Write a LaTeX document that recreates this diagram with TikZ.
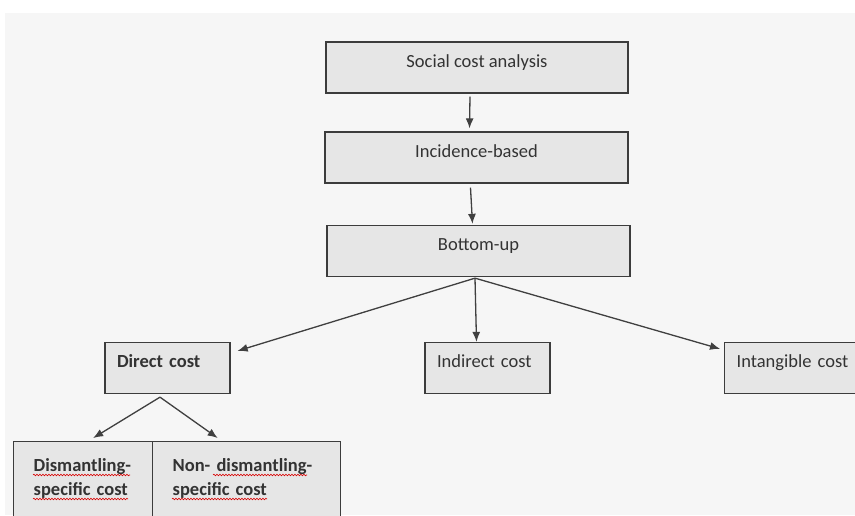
\documentclass[tikz,border=0pt]{standalone}
\usepackage{fontspec}
\setmainfont{Carlito}
\usetikzlibrary{arrows.meta,decorations.pathmorphing}
\definecolor{bggray}{HTML}{F6F6F6}
\definecolor{boxfill}{HTML}{E6E6E6}
\definecolor{boxline}{HTML}{3C3C3C}
\definecolor{txtgray}{HTML}{333333}
\definecolor{linegray}{HTML}{404040}

\begin{document}
\begin{tikzpicture}[x=1pt,y=-1pt]
\tikzstyle{every node}=[font=\fontsize{18.5}{24}\selectfont, text=txtgray]
\tikzstyle{box}=[draw=boxline, line width=1.3pt, fill=boxfill, rectangle, minimum height=51pt, text height=12pt, text depth=13pt, inner sep=0pt]
\tikzstyle{leaf}=[box, text width=101pt, align=left, inner xsep=12pt]
\tikzstyle{split}=[draw=boxline, line width=1.3pt, fill=boxfill, rectangle, anchor=north west, align=left, inner xsep=20pt, inner ysep=5pt, text height=25pt, text depth=60pt, font=\fontsize{18.5}{24}\selectfont\bfseries]
\tikzstyle{conn}=[-{Latex[length=10pt,width=8pt]}, draw=linegray, fill=linegray, line width=1.3pt]
\tikzstyle{squiggle}=[red!85!black, line width=0.6pt, decorate, decoration={snake, amplitude=0.8pt, segment length=3pt}]
\useasboundingbox (0,0) rectangle (855,515);
\clip (0,0) rectangle (855,515);
\fill[white] (0,0) rectangle (855,515);
\fill[bggray] (5,13) rectangle (855,515);
% chain
\node[box, minimum width=302pt] (social) at (477,67.5) {Social cost analysis};
\node[box, minimum width=303pt] (incidence) at (476.5,157.5) {Incidence-based};
\node[box, minimum width=303pt] (bottomup) at (478.5,251) {Bottom-up};
% cost types
\node[leaf, font=\fontsize{18.5}{24}\selectfont\bfseries] (direct) at (167.5,368) {Direct cost};
\node[leaf] (indirect) at (487.5,368) {Indirect cost};
\node[leaf, text width=116pt, anchor=west] (intangible) at (724,368) {Intangible cost};
% direct cost split
\node[split, minimum width=139pt, text width=99pt] (dism) at (13,441) {Dismantling-\\specific cost};
\node[split, minimum width=188pt, text width=148pt] (nondism) at (152,441) {Non- dismantling-\\specific cost};
\draw[conn] ([xshift=-7pt,yshift=-3pt]social.south) -- ([xshift=-7pt,yshift=3pt]incidence.north);
\draw[conn] ([xshift=-6pt,yshift=-4pt]incidence.south) -- ([xshift=-6pt,yshift=1pt]bottomup.north);
\draw[conn] ([xshift=-3.5pt,yshift=-1pt]bottomup.south) -- ([xshift=7pt,yshift=-9pt]direct.north east);
\draw[conn] ([xshift=-3.5pt,yshift=-1pt]bottomup.south) -- ([xshift=-11pt]indirect.north);
\draw[conn] ([xshift=-3.5pt,yshift=-1pt]bottomup.south) -- ([xshift=-4pt,yshift=-7pt]intangible.north west);
\draw[conn] ([xshift=-7.5pt,yshift=-3pt]direct.south) -- ([xshift=10pt,yshift=3pt]dism.north);
\draw[conn] ([xshift=-7.5pt,yshift=-3pt]direct.south) -- ([xshift=-29pt,yshift=3pt]nondism.north);
% spell-check marks
\draw[squiggle] (33,475) -- (130,475);
\draw[squiggle] (33,499) -- (128,499);
\draw[squiggle] (213,475) -- (307,475);
\draw[squiggle] (172,499) -- (267,499);
\end{tikzpicture}
\end{document}
